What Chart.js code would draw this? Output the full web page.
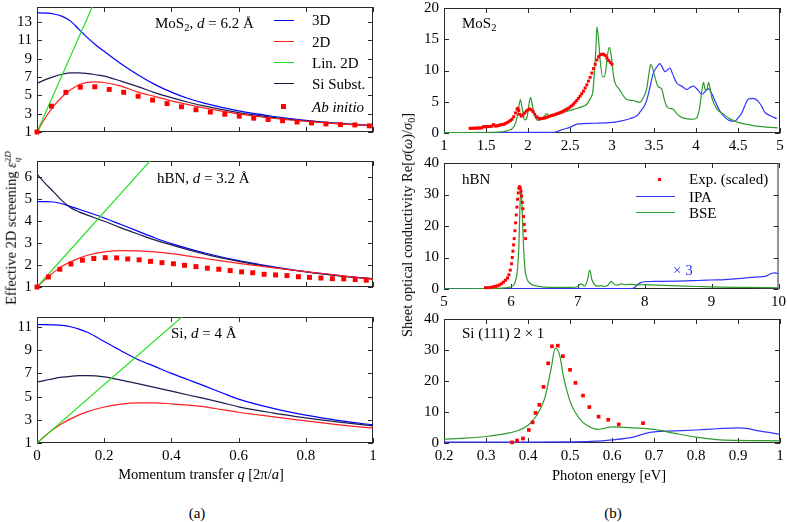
<!DOCTYPE html>
<html><head><meta charset="utf-8">
<script src="https://cdn.jsdelivr.net/npm/chart.js@4.4.1/dist/chart.umd.min.js"></script>
<style>
html,body{margin:0;padding:0;background:#fff;}
body{width:787px;height:522px;position:relative;overflow:hidden;font-family:"Liberation Serif",serif;color:#000;}
canvas{position:absolute;}
.t{position:absolute;white-space:nowrap;font-size:15px;line-height:18px;}
.rot{transform:translate(-50%,-50%) rotate(-90deg);font-size:14.5px;}
.ctr{transform:translateX(-50%);}
sub{font-size:70%;vertical-align:baseline;position:relative;top:0.3em;line-height:0;}
.ss{display:inline-block;vertical-align:-0.45em;font-size:62%;line-height:1.05;text-align:left;}
.ss span{display:block;}
.lg{position:absolute;height:1.4px;width:20px;}
</style></head><body>
<canvas id="cL1"></canvas><canvas id="cL2"></canvas><canvas id="cL3"></canvas>
<canvas id="cR1"></canvas><canvas id="cR2"></canvas><canvas id="cR3"></canvas>

<div class="t" style="left:155px;top:14px">MoS<sub>2</sub>, <i>d</i> = 6.2 Å</div>
<div class="t" style="left:157px;top:169px">hBN, <i>d</i> = 3.2 Å</div>
<div class="t" style="left:171px;top:324px">Si, <i>d</i> = 4 Å</div>
<div class="t" style="left:462px;top:14px">MoS<sub>2</sub></div>
<div class="t" style="left:462px;top:170px">hBN</div>
<div class="t" style="left:462px;top:324px">Si (111) 2 × 1</div>
<div class="t" style="left:673px;top:261px;color:#2f2fff">× 3</div>

<!-- left legend -->
<div class="lg" style="left:274px;top:19.5px;background:#0000ff"></div><div class="t" style="left:312px;top:11px">3D</div>
<div class="lg" style="left:274px;top:41px;background:#ff2020"></div><div class="t" style="left:312px;top:32.5px">2D</div>
<div class="lg" style="left:274px;top:62px;background:#22e022"></div><div class="t" style="left:312px;top:53.5px">Lin. 2D</div>
<div class="lg" style="left:274px;top:83px;background:#1c1c50"></div><div class="t" style="left:312px;top:74.5px">Si Subst.</div>
<div style="position:absolute;left:281px;top:104px;width:5px;height:5px;background:#ff0000"></div><div class="t" style="left:312px;top:97.5px"><i>Ab initio</i></div>

<!-- right legend -->
<div style="position:absolute;left:658px;top:178px;width:3px;height:3px;background:#ff0000"></div><div class="t" style="left:689px;top:170px">Exp. (scaled)</div>
<div class="lg" style="left:636px;top:196px;width:39px;background:#3333ff"></div><div class="t" style="left:689px;top:187.5px">IPA</div>
<div class="lg" style="left:636px;top:212px;width:39px;background:#2e9a2e"></div><div class="t" style="left:689px;top:203.5px">BSE</div>

<div class="t ctr" style="left:201px;top:465px;font-size:14.5px">Momentum transfer <i>q</i> [2π/<i>a</i>]</div>
<div class="t ctr" style="left:609px;top:466px;font-size:14.5px">Photon energy [eV]</div>
<div class="t ctr" style="left:197px;top:504px">(a)</div>
<div class="t ctr" style="left:613px;top:504px">(b)</div>
<div class="t rot" style="left:12px;top:228px">Effective 2D screening <i>ε</i><span class="ss"><span>2<i>D</i></span><span><i>q</i></span></span></div>
<div class="t rot" style="left:407px;top:225px">Sheet optical conductivity Re[<i>σ</i>(<i>ω</i>)/<i>σ</i><sub>0</sub>]</div>

<script>
// ---------- data: left column (effective 2D screening) ----------
const qTicks = [0, 0.2, 0.4, 0.6, 0.8, 1];
const yTicksMoS2 = [1, 3, 5, 7, 9, 11, 13];
const yTicksHBN = [1, 2, 3, 4, 5, 6];
const yTicksSi = [1, 3, 5, 7, 9, 11];

const qMoS2 = [0, 0.025, 0.05, 0.075, 0.1, 0.125, 0.15, 0.175, 0.2, 0.25, 0.3, 0.35, 0.4, 0.45, 0.5, 0.6, 0.7, 0.8, 0.9, 1.0];
const mos2_3D = [14.0, 13.97, 13.88, 13.62, 13.1, 12.2, 11.3, 10.5, 9.8, 8.45, 7.25, 6.2, 5.35, 4.65, 4.12, 3.3, 2.72, 2.28, 1.95, 1.7];
const mos2_2D = [1.0, 2.55, 3.85, 4.85, 5.6, 6.15, 6.42, 6.47, 6.4, 6.0, 5.35, 4.88, 4.4, 3.98, 3.6, 2.98, 2.5, 2.15, 1.88, 1.68];
const mos2_Si = [6.3, 6.72, 7.05, 7.3, 7.45, 7.45, 7.38, 7.25, 7.1, 6.55, 5.95, 5.3, 4.75, 4.25, 3.82, 3.12, 2.6, 2.2, 1.92, 1.69];
const mos2_linQ = [0, 0.18];
const mos2_lin = [1, 15.94];
const mos2_abQ = [0, 0.043, 0.086, 0.129, 0.172, 0.215, 0.258, 0.301, 0.344, 0.387, 0.43, 0.473, 0.516, 0.559, 0.602, 0.645, 0.688, 0.731, 0.774, 0.817, 0.86, 0.903, 0.946, 0.989];
const mos2_ab = [1.0, 3.82, 5.33, 5.89, 5.93, 5.65, 5.33, 4.9, 4.49, 4.1, 3.75, 3.43, 3.18, 2.94, 2.73, 2.51, 2.37, 2.23, 2.09, 1.99, 1.88, 1.81, 1.77, 1.67];

const qHBN = [0, 0.025, 0.05, 0.075, 0.1, 0.125, 0.15, 0.2, 0.25, 0.3, 0.35, 0.4, 0.5, 0.6, 0.7, 0.8, 0.9, 1.0];
const hbn_3D = [4.9, 4.9, 4.88, 4.8, 4.67, 4.55, 4.42, 4.15, 3.85, 3.55, 3.25, 2.98, 2.55, 2.2, 1.93, 1.7, 1.52, 1.37];
const hbn_Si = [6.15, 5.72, 5.33, 4.93, 4.62, 4.43, 4.28, 4.0, 3.7, 3.42, 3.15, 2.92, 2.5, 2.17, 1.9, 1.69, 1.51, 1.37];
const hbn_2D = [1.0, 1.35, 1.68, 1.95, 2.15, 2.32, 2.45, 2.6, 2.66, 2.65, 2.6, 2.52, 2.3, 2.08, 1.88, 1.7, 1.53, 1.35];
const hbn_linQ = [0, 0.35];
const hbn_lin = [1, 6.985];
const hbn_abQ = [0, 0.034, 0.068, 0.101, 0.135, 0.169, 0.203, 0.237, 0.27, 0.304, 0.338, 0.372, 0.406, 0.439, 0.473, 0.507, 0.541, 0.575, 0.609, 0.642, 0.676, 0.71, 0.744, 0.778, 0.811, 0.845, 0.879, 0.913, 0.947, 0.98];
const hbn_ab = [1.0, 1.46, 1.81, 2.05, 2.22, 2.3, 2.34, 2.33, 2.28, 2.24, 2.17, 2.11, 2.06, 1.99, 1.93, 1.86, 1.81, 1.75, 1.69, 1.65, 1.58, 1.55, 1.52, 1.47, 1.44, 1.41, 1.38, 1.37, 1.34, 1.31];

const qSi = [0, 0.025, 0.05, 0.075, 0.1, 0.125, 0.15, 0.2, 0.25, 0.3, 0.35, 0.4, 0.45, 0.5, 0.55, 0.6, 0.7, 0.8, 0.9, 1.0];
const si_3D = [11.2, 11.2, 11.18, 11.13, 11.02, 10.82, 10.55, 9.75, 8.95, 8.2, 7.6, 7.0, 6.45, 5.9, 5.33, 4.78, 4.0, 3.4, 2.93, 2.56];
const si_Si = [6.25, 6.4, 6.55, 6.67, 6.75, 6.8, 6.8, 6.7, 6.42, 6.12, 5.8, 5.47, 5.14, 4.82, 4.48, 4.12, 3.6, 3.17, 2.8, 2.47];
const si_2D = [1.0, 1.65, 2.2, 2.68, 3.08, 3.42, 3.7, 4.1, 4.35, 4.46, 4.46, 4.38, 4.27, 4.12, 3.88, 3.65, 3.27, 2.9, 2.57, 2.28];
const si_linQ = [0, 0.47];
const si_lin = [1, 12.84];

// ---------- data: right column (sheet optical conductivity) ----------
const eTicksMoS2 = [1, 1.5, 2, 2.5, 3, 3.5, 4, 4.5, 5];
const eTicksHBN = [5, 6, 7, 8, 9, 10];
const eTicksSi = [0.2, 0.3, 0.4, 0.5, 0.6, 0.7, 0.8, 0.9, 1];
const sTicksMoS2 = [0, 5, 10, 15, 20];
const sTicks40 = [0, 10, 20, 30, 40];

const mos2_bseE = [1.0, 1.5, 1.6, 1.7, 1.75, 1.8, 1.84, 1.87, 1.89, 1.91, 1.93, 1.96, 1.99, 2.01, 2.03, 2.05, 2.08, 2.12, 2.16, 2.2, 2.22, 2.25, 2.3, 2.4, 2.5, 2.6, 2.66, 2.7, 2.74, 2.77, 2.79, 2.81, 2.82, 2.84, 2.86, 2.89, 2.91, 2.93, 2.95, 2.97, 2.99, 3.01, 3.03, 3.09, 3.17, 3.25, 3.33, 3.37, 3.41, 3.44, 3.46, 3.48, 3.5, 3.55, 3.59, 3.62, 3.66, 3.73, 3.77, 3.83, 3.9, 3.97, 4.01, 4.04, 4.07, 4.09, 4.11, 4.13, 4.15, 4.17, 4.19, 4.25, 4.32, 4.4, 4.48, 4.56, 4.64, 4.72, 4.85, 4.97];
const mos2_bse = [0.05, 0.07, 0.1, 0.2, 0.35, 0.6, 1.2, 2.5, 4.2, 5.3, 4.0, 2.1, 2.6, 4.5, 5.7, 4.6, 2.8, 2.0, 2.2, 2.8, 3.1, 2.8, 2.8, 3.2, 3.6, 4.0, 4.3, 4.6, 5.5, 6.5, 9.5, 14.0, 17.0, 15.0, 11.5, 9.0, 9.0, 10.5, 12.8, 13.7, 12.5, 10.0, 8.3, 6.95, 5.4, 5.2, 4.9, 5.6, 6.9, 9.5, 11.0, 10.5, 9.5, 7.4, 7.1, 5.5, 4.1, 3.8, 3.1, 2.5, 2.25, 2.2, 2.45, 3.8, 6.8, 8.1, 6.9, 7.0, 8.1, 7.0, 5.6, 3.8, 3.1, 2.3, 1.8, 1.5, 1.3, 1.1, 0.95, 0.83];
const mos2_ipaE = [1.0, 2.3, 2.36, 2.42, 2.5, 2.56, 2.6, 2.8, 2.97, 3.1, 3.21, 3.3, 3.33, 3.38, 3.41, 3.45, 3.49, 3.53, 3.57, 3.6, 3.63, 3.66, 3.69, 3.72, 3.77, 3.83, 3.89, 3.93, 3.97, 4.02, 4.07, 4.12, 4.15, 4.18, 4.21, 4.28, 4.36, 4.41, 4.46, 4.5, 4.54, 4.58, 4.62, 4.68, 4.74, 4.78, 4.82, 4.88, 4.96];
const mos2_ipa = [0.05, 0.1, 0.3, 0.6, 0.9, 1.3, 1.45, 1.56, 1.65, 1.9, 2.28, 2.8, 3.3, 4.2, 5.1, 7.2, 9.5, 10.5, 11.1, 10.5, 9.8, 10.1, 10.4, 9.5, 8.0, 7.5, 6.95, 7.3, 7.5, 6.9, 6.2, 6.8, 7.1, 6.5, 5.65, 3.6, 2.3, 1.95, 1.9, 2.4, 3.07, 4.3, 5.4, 5.55, 5.1, 4.3, 3.3, 2.8, 2.3];
const mos2_expE = [1.31, 1.33, 1.35, 1.37, 1.39, 1.41, 1.43, 1.45, 1.47, 1.49, 1.51, 1.53, 1.55, 1.57, 1.59, 1.61, 1.63, 1.65, 1.67, 1.69, 1.71, 1.73, 1.75, 1.77, 1.79, 1.81, 1.83, 1.85, 1.87, 1.88, 1.89, 1.9, 1.92, 1.94, 1.96, 1.98, 2.0, 2.02, 2.04, 2.06, 2.08, 2.1, 2.12, 2.14, 2.16, 2.18, 2.2, 2.22, 2.24, 2.26, 2.28, 2.3, 2.32, 2.34, 2.36, 2.38, 2.4, 2.42, 2.44, 2.46, 2.48, 2.5, 2.52, 2.54, 2.56, 2.58, 2.6, 2.62, 2.64, 2.66, 2.68, 2.7, 2.72, 2.74, 2.76, 2.78, 2.8, 2.82, 2.84, 2.86, 2.88, 2.9, 2.92, 2.94, 2.96, 2.98, 3.0];
const mos2_exp = [0.75, 0.75, 0.76, 0.78, 0.78, 0.8, 0.8, 0.82, 1.0, 1.0, 1.02, 1.03, 1.05, 1.1, 1.35, 1.12, 1.15, 1.2, 1.3, 1.35, 1.4, 1.5, 1.65, 1.8, 2.0, 2.2, 2.6, 3.2, 3.8, 3.95, 3.6, 3.0, 2.7, 2.9, 3.2, 3.5, 3.7, 3.85, 3.7, 3.4, 3.0, 2.6, 2.4, 2.3, 2.3, 2.35, 2.4, 2.5, 2.6, 2.7, 2.8, 2.85, 2.95, 3.05, 3.15, 3.25, 3.35, 3.5, 3.65, 3.8, 3.95, 4.15, 4.35, 4.6, 4.9, 5.2, 5.55, 5.9, 6.3, 6.7, 7.2, 7.7, 8.3, 8.9, 9.6, 10.3, 11.0, 11.7, 12.2, 12.5, 12.6, 12.6, 12.4, 12.0, 11.6, 11.3, 11.0];

const hbn_bseE = [5.0, 5.6, 5.8, 5.9, 6.0, 6.05, 6.08, 6.1, 6.12, 6.13, 6.14, 6.15, 6.16, 6.17, 6.19, 6.21, 6.24, 6.3, 6.4, 6.6, 6.9, 7.0, 7.04, 7.07, 7.1, 7.14, 7.18, 7.21, 7.26, 7.3, 7.35, 7.4, 7.45, 7.5, 7.55, 7.6, 7.65, 7.7, 7.8, 7.9, 8.0, 8.2, 8.5, 8.8, 9.0, 9.5, 10.0];
const hbn_bse = [0.05, 0.1, 0.2, 0.35, 0.7, 1.5, 3.5, 6.5, 14, 22, 29, 32.3, 30, 24, 13, 6.5, 3.2, 1.6, 0.9, 0.5, 0.5, 0.7, 1.6, 1.4, 0.9, 2.5, 6.0, 3.0, 1.2, 0.9, 1.1, 0.8, 1.2, 2.4, 1.4, 1.2, 1.6, 1.4, 1.5, 1.3, 1.4, 1.2, 1.0, 0.8, 0.65, 0.5, 0.4];
const hbn_ipaE = [5.0, 7.8, 7.85, 7.9, 7.95, 8.0, 8.2, 8.5, 8.8, 9.0, 9.2, 9.4, 9.6, 9.8, 9.9, 9.95, 10.0];
const hbn_ipa = [0.05, 0.1, 0.5, 1.5, 2.1, 2.3, 2.4, 2.5, 2.7, 2.85, 3.0, 3.3, 3.7, 4.0, 5.0, 5.1, 4.8];
const hbn_expE = [5.62, 5.66, 5.7, 5.74, 5.77, 5.8, 5.83, 5.86, 5.89, 5.92, 5.95, 5.97, 5.99, 6.01, 6.02, 6.03, 6.04, 6.05, 6.06, 6.07, 6.08, 6.09, 6.1, 6.11, 6.12, 6.13, 6.14, 6.15, 6.16, 6.17, 6.18, 6.19, 6.2, 6.21, 6.22];
const hbn_exp = [0.4, 0.45, 0.55, 0.7, 0.85, 1.0, 1.3, 1.7, 2.2, 2.8, 3.5, 4.5, 6, 8, 10, 12, 14, 16, 18.5, 21, 23.5, 26, 28.5, 30.5, 32, 32.5, 32, 31, 29.5, 27.5, 25.5, 23, 20.5, 18.5, 16];

const si_bseE = [0.2, 0.25, 0.3, 0.35, 0.38, 0.4, 0.42, 0.44, 0.455, 0.465, 0.475, 0.485, 0.5, 0.51, 0.53, 0.55, 0.565, 0.58, 0.6, 0.65, 0.7, 0.75, 0.8, 0.85, 0.9, 1.0];
const si_bse = [1.25, 1.55, 2.1, 3.1, 4.2, 5.7, 8.8, 14.5, 24, 30.5, 28.5, 21, 13.5, 10.5, 6.75, 5.0, 4.4, 4.7, 5.2, 4.9, 4.4, 3.1, 1.9, 1.1, 0.85, 0.7];
const si_ipaE = [0.2, 0.3, 0.4, 0.5, 0.55, 0.6, 0.65, 0.68, 0.7, 0.75, 0.8, 0.85, 0.9, 0.92, 0.95, 1.0];
const si_ipa = [0.3, 0.3, 0.3, 0.35, 0.5, 1.0, 1.9, 3.1, 3.6, 3.9, 4.2, 4.6, 4.9, 4.7, 3.9, 2.8];
const si_expE = [0.362, 0.374, 0.388, 0.402, 0.411, 0.418, 0.427, 0.437, 0.448, 0.457, 0.471, 0.483, 0.5, 0.513, 0.531, 0.546, 0.568, 0.591, 0.616, 0.674];
const si_exp = [0.2, 0.8, 1.45, 4.2, 6.65, 9.7, 12.3, 18.1, 25.7, 31.2, 31.4, 28.0, 23.6, 19.4, 15.3, 11.6, 8.5, 7.5, 6.0, 6.4];

// ---------- drawing ----------
const FONT = '"Liberation Serif", serif';
const C = {blue:'#0000ff', red:'#ff2020', lime:'#22e022', navy:'#1c1c50', sq:'#ff0000',
           rblue:'#3333ff', rgreen:'#2e9a2e', rred:'#ff0000'};
Chart.defaults.font.family = FONT;

function zip(xs, ys){ return xs.map((x, i) => ({x: x, y: ys[i]})); }
function line(xs, ys, color, w){
  return {data: zip(xs, ys), showLine: true, borderColor: color, backgroundColor: color,
          borderWidth: w || 1.2, pointRadius: 0, cubicInterpolationMode: 'monotone', fill: false};
}
function pts(xs, ys, color, r){
  return {data: zip(xs, ys), showLine: false, pointStyle: 'rect', pointRadius: r,
          pointBackgroundColor: color, pointBorderWidth: 0, borderColor: color, backgroundColor: color, clip: false};
}
function fmt(v){ return String(Math.round(v * 1000) / 1000); }

const framePlugin = {
  id: 'frame',
  beforeDatasetsDraw(chart){
    const ctx = chart.ctx, a = chart.chartArea, xs = chart.scales.x, ys = chart.scales.y;
    ctx.save();
    ctx.strokeStyle = '#2a2a2a'; ctx.lineWidth = 1;
    ctx.beginPath();
    xs.ticks.forEach(t => {
      const p = Math.round(xs.getPixelForValue(t.value)) + 0.5;
      ctx.moveTo(p, a.bottom); ctx.lineTo(p, a.bottom - 5);
      ctx.moveTo(p, a.top); ctx.lineTo(p, a.top + 5);
    });
    ys.ticks.forEach(t => {
      const p = Math.round(ys.getPixelForValue(t.value)) + 0.5;
      ctx.moveTo(a.left, p); ctx.lineTo(a.left + 5, p);
      ctx.moveTo(a.right, p); ctx.lineTo(a.right - 5, p);
    });
    ctx.stroke();
    ctx.strokeRect(a.left + 0.5, a.top + 0.5, a.right - a.left - 1, a.bottom - a.top - 1);
    ctx.restore();
  }
};

function panel(id, g, xr, xt, yr, yt, showX, datasets){
  const T = 10, R = 10, B = 24, L = g.L;
  const cv = document.getElementById(id);
  cv.width = L + g.w + R; cv.height = T + g.h + B;
  cv.style.left = (g.left - L) + 'px'; cv.style.top = (g.top - T) + 'px';
  const tickFont = {family: FONT, size: 15};
  new Chart(cv, {
    type: 'scatter',
    data: {datasets: datasets},
    options: {
      responsive: false, animation: false, devicePixelRatio: 1,
      layout: {padding: {top: T, right: R, left: 0, bottom: 0}},
      plugins: {legend: {display: false}, tooltip: {enabled: false}},
      scales: {
        x: {type: 'linear', min: xr[0], max: xr[1],
            afterBuildTicks: s => { s.ticks = xt.map(v => ({value: v})); },
            afterFit: s => { s.height = B; },
            grid: {display: false, drawTicks: false}, border: {display: false},
            ticks: {display: showX, font: tickFont, color: '#000', padding: 4, maxRotation: 0, autoSkip: false, callback: v => fmt(v)}},
        y: {type: 'linear', min: yr[0], max: yr[1],
            afterBuildTicks: s => { s.ticks = yt.map(v => ({value: v})); },
            afterFit: s => { s.width = L; },
            grid: {display: false, drawTicks: false}, border: {display: false},
            ticks: {font: tickFont, color: '#000', padding: 5, autoSkip: false, callback: v => fmt(v)}}
      }
    },
    plugins: [framePlugin]
  });
}

function drawAll(){
  panel('cL1', {left: 37, top: 3, w: 336, h: 129, L: 36}, [0, 1], qTicks, [1, 14.64], yTicksMoS2, false, [
    pts(mos2_abQ, mos2_ab, C.sq, 3.5),
    line(mos2_linQ, mos2_lin, C.lime),
    line(qMoS2, mos2_2D, C.red),
    line(qMoS2, mos2_Si, C.navy),
    line(qMoS2, mos2_3D, C.blue)
  ]);
  panel('cL2', {left: 37, top: 157, w: 336, h: 130, L: 36}, [0, 1], qTicks, [1, 6.75], yTicksHBN, false, [
    pts(hbn_abQ, hbn_ab, C.sq, 3.5),
    line(hbn_linQ, hbn_lin, C.lime),
    line(qHBN, hbn_2D, C.red),
    line(qHBN, hbn_Si, C.navy),
    line(qHBN, hbn_3D, C.blue)
  ]);
  panel('cL3', {left: 37, top: 313, w: 336, h: 130, L: 36}, [0, 1], qTicks, [1, 11.86], yTicksSi, true, [
    line(si_linQ, si_lin, C.lime),
    line(qSi, si_2D, C.red),
    line(qSi, si_Si, C.navy),
    line(qSi, si_3D, C.blue)
  ]);
  panel('cR1', {left: 444, top: 4, w: 336, h: 129, L: 40}, [1, 5], eTicksMoS2, [0, 20], sTicksMoS2, true, [
    pts(mos2_expE, mos2_exp, C.rred, 2.1),
    line(mos2_bseE, mos2_bse, C.rgreen),
    line(mos2_ipaE, mos2_ipa, C.rblue)
  ]);
  panel('cR2', {left: 444, top: 159, w: 336, h: 130, L: 40}, [5, 10], eTicksHBN, [0, 40], sTicks40, true, [
    pts(hbn_expE, hbn_exp, C.rred, 2.1),
    line(hbn_bseE, hbn_bse, C.rgreen),
    line(hbn_ipaE, hbn_ipa, C.rblue)
  ]);
  panel('cR3', {left: 444, top: 315, w: 336, h: 128, L: 40}, [0.2, 1], eTicksSi, [0, 40], sTicks40, true, [
    pts(si_expE, si_exp, C.rred, 2.6),
    line(si_bseE, si_bse, C.rgreen),
    line(si_ipaE, si_ipa, C.rblue)
  ]);
}
if (document.fonts && document.fonts.load) {
  document.fonts.load('15px "Liberation Serif"').then(drawAll, drawAll);
} else {
  drawAll();
}
</script>
</body></html>
